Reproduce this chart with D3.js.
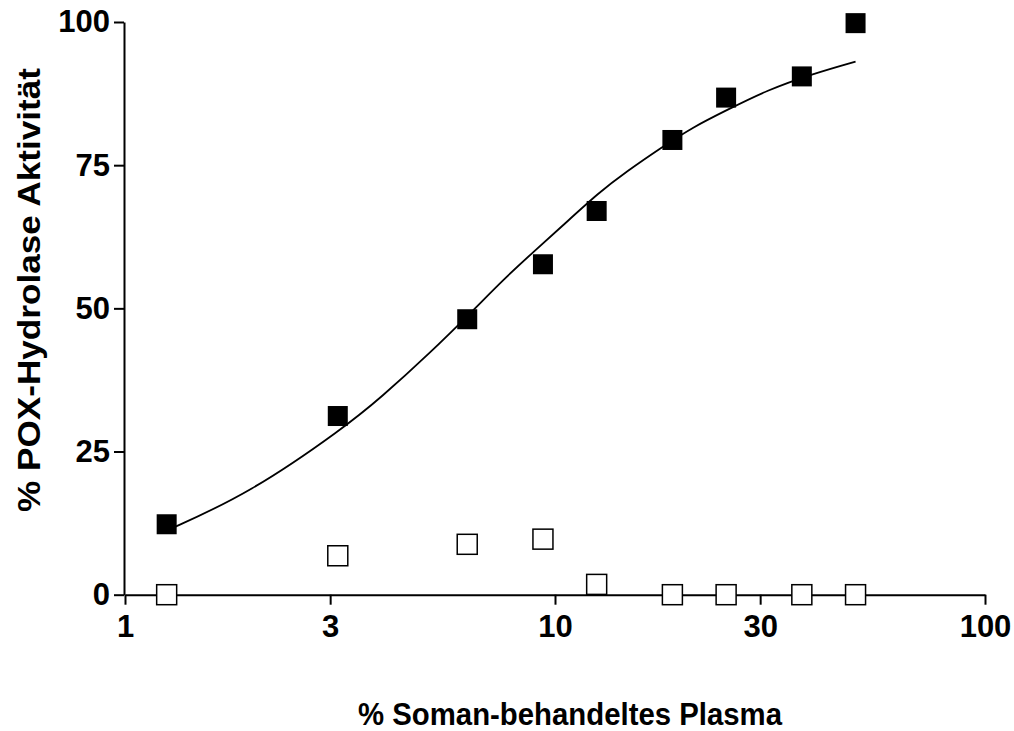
<!DOCTYPE html>
<html>
<head>
<meta charset="utf-8">
<script src="https://cdn.jsdelivr.net/npm/d3@7"></script>
<style>
  body { margin: 0; background: #fff; }
  svg text { font-family: "Liberation Sans", Arial, sans-serif; font-weight: bold; fill: #000; }
</style>
</head>
<body>
<svg id="chart" width="1014" height="731"></svg>
<script>
// dose (% soman treated plasma) and measured activities
const doses = [1.25, 3.125, 6.25, 9.375, 12.5, 18.75, 25, 37.5, 50];
const filledValues = [12.3, 31.2, 48.1, 57.7, 67.0, 79.4, 86.8, 90.5, 99.8];
const openValues = [0, 6.8, 8.8, 9.7, 1.8, 0, 0, 0, 0];

// fitted curve
const curveX = [1.25, 1.95, 3.25, 3.92, 5.12, 6.52, 7.58, 8.83, 10.27, 12.72, 14.68, 17.54, 20.97, 25.07, 31.1, 39.9, 50];
const curveY = [11.2, 17.7, 29.3, 34.3, 42.2, 50.0, 55.0, 59.6, 64.0, 70.4, 73.9, 77.9, 81.7, 84.6, 88.1, 91.0, 93.1];

const xTicks = [1, 3, 10, 30, 100];
const yTicks = [0, 25, 50, 75, 100];

const xTitle = "% Soman-behandeltes Plasma";
const yTitle = "% POX-Hydrolase Aktivität";

const svg = d3.select("#chart");

const x = d3.scaleLog().domain([1, 100]).range([125, 985]);
const y = d3.scaleLinear().domain([0, 100]).range([594.7, 22]);

// axes
const xAxis = svg.append("g")
  .attr("transform", `translate(0, ${y(0)})`)
  .call(d3.axisBottom(x).tickValues(xTicks).tickFormat(d3.format("d"))
    .tickSize(10).tickSizeOuter(0).tickPadding(10));

const yAxis = svg.append("g")
  .attr("transform", `translate(${x(1) - 1}, 0)`)
  .call(d3.axisLeft(y).tickValues(yTicks).tickSize(10).tickSizeOuter(0).tickPadding(4));

[xAxis, yAxis].forEach(g => {
  g.select(".domain").attr("stroke", "#000").attr("stroke-width", 2);
  g.selectAll(".tick line").attr("stroke", "#000").attr("stroke-width", 2);
  g.selectAll(".tick text")
    .attr("font-size", 31)
    .attr("font-family", "Liberation Sans, Arial, sans-serif")
    .attr("font-weight", "bold")
    .attr("fill", "#000");
});

// fitted curve
const line = d3.line()
  .x((d, i) => x(curveX[i]))
  .y(d => y(d))
  .curve(d3.curveBasis);

svg.append("path")
  .datum(curveY)
  .attr("d", line)
  .attr("fill", "none")
  .attr("stroke", "#000")
  .attr("stroke-width", 1.8);

const size = 20;

// open squares (control)
svg.append("g").selectAll("rect")
  .data(openValues)
  .enter().append("rect")
  .attr("x", (d, i) => x(doses[i]) - size / 2)
  .attr("y", d => y(d) - size / 2)
  .attr("width", size)
  .attr("height", size)
  .attr("fill", "#fff")
  .attr("stroke", "#000")
  .attr("stroke-width", 1.5);

// filled squares
svg.append("g").selectAll("rect")
  .data(filledValues)
  .enter().append("rect")
  .attr("x", (d, i) => x(doses[i]) - size / 2)
  .attr("y", d => y(d) - size / 2)
  .attr("width", size)
  .attr("height", size)
  .attr("fill", "#000");

// axis titles
svg.append("text")
  .attr("x", 570)
  .attr("y", 725)
  .attr("text-anchor", "middle")
  .attr("font-size", 32)
  .attr("textLength", 424)
  .attr("lengthAdjust", "spacingAndGlyphs")
  .text(xTitle);

svg.append("text")
  .attr("transform", "translate(40, 290) rotate(-90)")
  .attr("text-anchor", "middle")
  .attr("font-size", 32)
  .attr("textLength", 444)
  .attr("lengthAdjust", "spacingAndGlyphs")
  .text(yTitle);
</script>
</body>
</html>
